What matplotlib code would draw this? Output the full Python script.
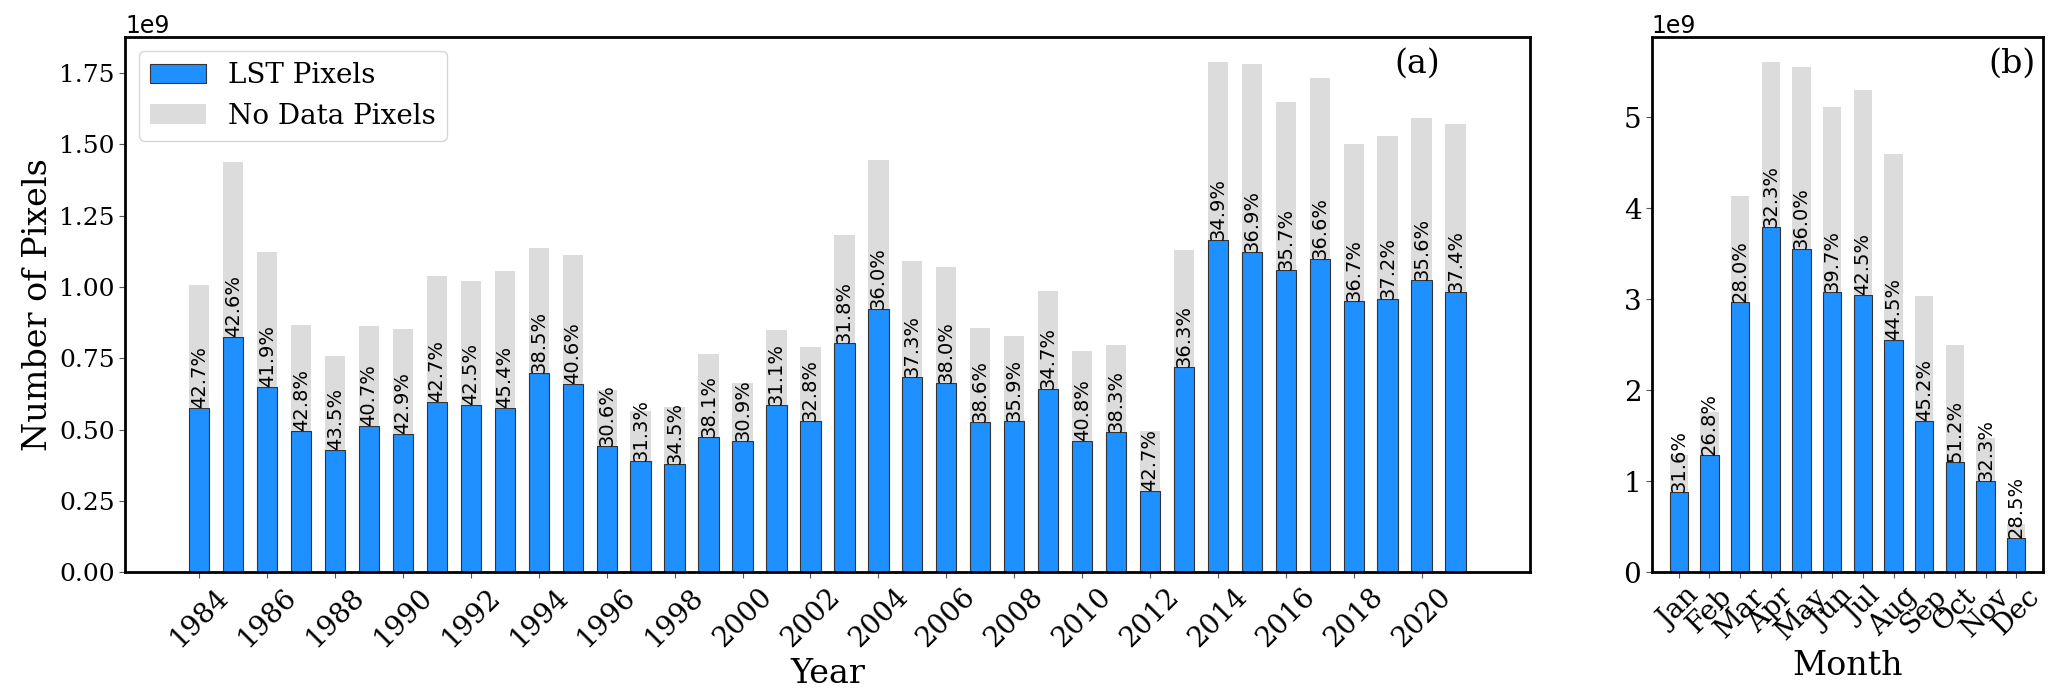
import numpy as np
import matplotlib
matplotlib.use('Agg')
import matplotlib.pyplot as plt

plt.rcParams['font.family'] = 'DejaVu Serif'

### Data (pixel counts in units of 1e9)
years = list(range(1984, 2022))
lst_year = [0.576, 0.824, 0.651, 0.495, 0.429, 0.512, 0.486, 0.595, 0.586, 0.575,
            0.698, 0.661, 0.443, 0.389, 0.380, 0.473, 0.459, 0.585, 0.530, 0.805,
            0.924, 0.684, 0.663, 0.526, 0.531, 0.644, 0.459, 0.491, 0.284, 0.720,
            1.163, 1.123, 1.059, 1.099, 0.950, 0.959, 1.025, 0.983]
nodata_year = [0.429, 0.612, 0.470, 0.370, 0.330, 0.351, 0.365, 0.443, 0.433, 0.479,
               0.437, 0.451, 0.195, 0.177, 0.200, 0.291, 0.206, 0.264, 0.259, 0.375,
               0.520, 0.407, 0.407, 0.331, 0.297, 0.342, 0.316, 0.305, 0.211, 0.410,
               0.623, 0.657, 0.588, 0.634, 0.551, 0.568, 0.566, 0.588]
pct_year = ['42.7%', '42.6%', '41.9%', '42.8%', '43.5%', '40.7%', '42.9%', '42.7%',
            '42.5%', '45.4%', '38.5%', '40.6%', '30.6%', '31.3%', '34.5%', '38.1%',
            '30.9%', '31.1%', '32.8%', '31.8%', '36.0%', '37.3%', '38.0%', '38.6%',
            '35.9%', '34.7%', '40.8%', '38.3%', '42.7%', '36.3%', '34.9%', '36.9%',
            '35.7%', '36.6%', '36.7%', '37.2%', '35.6%', '37.4%']

months = ['Jan', 'Feb', 'Mar', 'Apr', 'May', 'Jun', 'Jul', 'Aug', 'Sep', 'Oct', 'Nov', 'Dec']
lst_month = [0.879, 1.292, 2.976, 3.794, 3.556, 3.083, 3.052, 2.550, 1.663, 1.217, 1.002, 0.378]
nodata_month = [0.406, 0.473, 1.157, 1.810, 2.001, 2.030, 2.255, 2.044, 1.372, 1.277, 0.478, 0.151]
pct_month = ['31.6%', '26.8%', '28.0%', '32.3%', '36.0%', '39.7%', '42.5%', '44.5%',
             '45.2%', '51.2%', '32.3%', '28.5%']

blue = '#1E90FF'
grey = '#DCDCDC'

fig = plt.figure(figsize=(20.67, 6.98), dpi=100)
ax1 = fig.add_axes([0.0606, 0.18, 0.6794, 0.767])
ax2 = fig.add_axes([0.7991, 0.18, 0.1894, 0.767])

def stacked(ax, x, lst, nod, pct, ysize):
    lst = np.array(lst) * 1e9
    nod = np.array(nod) * 1e9
    ax.bar(x, lst, width=0.6, color=blue, edgecolor='#333333', linewidth=0.8, label='LST Pixels')
    ax.bar(x, nod, width=0.6, bottom=lst, color=grey, label='No Data Pixels')
    for xi, yi, s in zip(x, lst, pct):
        ax.text(xi, yi, s, rotation=90, ha='center', va='bottom', fontsize=14,
                family='DejaVu Sans')
    for sp_ in ax.spines.values():
        sp_.set_linewidth(2)
    ax.tick_params(axis='both', length=4, color='#555555')
    ax.tick_params(axis='x', labelsize=20)
    ax.tick_params(axis='y', labelsize=ysize)
    ax.yaxis.get_offset_text().set_fontsize(17)
    ax.yaxis.get_offset_text().set_family('DejaVu Sans')

### (a) yearly
stacked(ax1, years, lst_year, nodata_year, pct_year, 18)
ax1.set_xticks(years[::2])
ax1.set_xticklabels([str(y) for y in years[::2]], rotation=45, ha='center')
ax1.set_xlabel('Year', fontsize=24)
ax1.set_ylabel('Number of Pixels', fontsize=24)
ax1.legend(loc='upper left', fontsize=20)
ax1.text(0.92, 0.95, '(a)', transform=ax1.transAxes, ha='center', va='center', fontsize=24)

### (b) monthly
xm = np.arange(len(months))
stacked(ax2, xm, lst_month, nodata_month, pct_month, 20)
ax2.set_xticks(xm)
ax2.set_xticklabels(months, rotation=45, ha='center')
ax2.set_xlabel('Month', fontsize=24)
ax2.text(0.92, 0.95, '(b)', transform=ax2.transAxes, ha='center', va='center', fontsize=24)

fig.savefig('out.png', dpi=100)
